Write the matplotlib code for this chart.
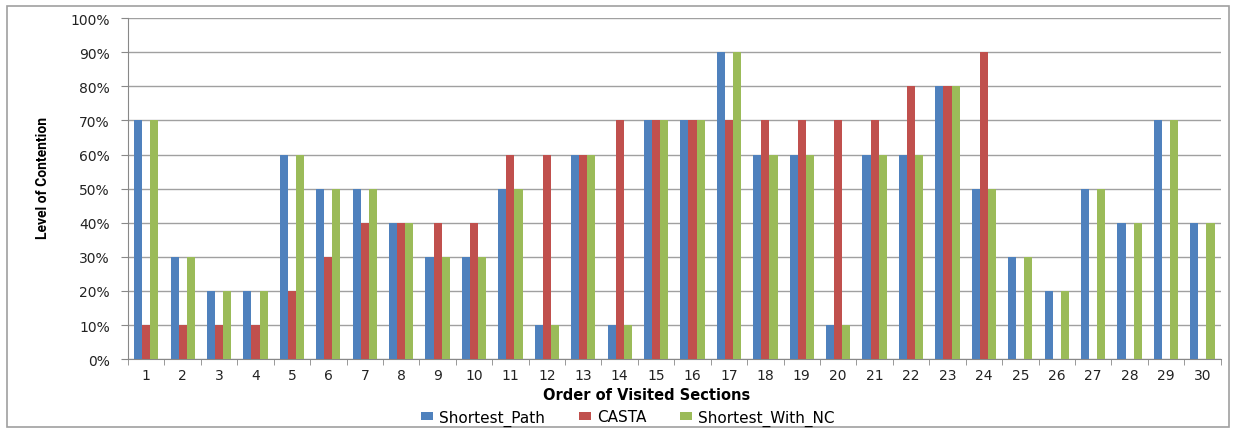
import numpy as np
import matplotlib.pyplot as plt
from matplotlib.patches import Rectangle
from matplotlib.ticker import PercentFormatter

# contention level (%) for each visited section
sections = list(range(1, 31))
shortest_path = [70, 30, 20, 20, 60, 50, 50, 40, 30, 30, 50, 10, 60, 10, 70,
                 70, 90, 60, 60, 10, 60, 60, 80, 50, 30, 20, 50, 40, 70, 40]
casta = [10, 10, 10, 10, 20, 30, 40, 40, 40, 40, 60, 60, 60, 70, 70,
         70, 70, 70, 70, 70, 70, 80, 80, 90, 0, 0, 0, 0, 0, 0]
shortest_nc = [70, 30, 20, 20, 60, 50, 50, 40, 30, 30, 50, 10, 60, 10, 70,
               70, 90, 60, 60, 10, 60, 60, 80, 50, 30, 20, 50, 40, 70, 40]

fig = plt.figure(figsize=(12.43, 4.35), dpi=100)
ax = fig.add_axes([0.103, 0.172, 0.879, 0.784])

x = np.arange(len(sections))
w = 1 / 4.5
ax.bar(x - w, shortest_path, w, color="#4F81BD", label="Shortest_Path", zorder=3)
ax.bar(x, casta, w, color="#C0504D", label="CASTA", zorder=3)
ax.bar(x + w, shortest_nc, w, color="#9BBB59", label="Shortest_With_NC", zorder=3)

ax.set_xlim(-0.5, len(sections) - 0.5)
ax.set_ylim(0, 100)
ax.set_yticks(range(0, 101, 10))
ax.yaxis.set_major_formatter(PercentFormatter(decimals=0))
ax.yaxis.grid(True, color="#a0a0a0", linewidth=1, zorder=0)

ax.set_xticks(x)
ax.set_xticklabels(sections)
ax.set_xticks(np.arange(-0.5, len(sections), 1), minor=True)
ax.tick_params(axis="x", which="major", length=0, pad=6, labelsize=10, colors="#222222")
ax.tick_params(axis="x", which="minor", length=4, color="#888888")
ax.tick_params(axis="y", length=5, pad=8, color="#888888", labelsize=10, labelcolor="#222222")

for side in ["top", "right"]:
    ax.spines[side].set_visible(False)
ax.spines["left"].set_color("#888888")
ax.spines["bottom"].set_color("#888888")

ax.set_xlabel("Order of Visited Sections", fontsize=10.5, fontweight="bold")
ax.xaxis.set_label_coords(0.475, -0.082)
ax.set_ylabel("Level of Contention", fontsize=10, fontweight="bold", family="Roboto")
ax.yaxis.set_label_coords(-0.071, 0.534)

fig.legend(loc="center", bbox_to_anchor=(0.505, 0.038), ncol=3, frameon=False,
           fontsize=11, handlelength=0.8, handleheight=0.45, columnspacing=2.2,
           handletextpad=0.4)

fig.patches.append(Rectangle((0.006, 0.015), 0.983, 0.97, transform=fig.transFigure,
                             fill=False, edgecolor="#a0a0a0", linewidth=1.2))

fig.savefig("out.png", dpi=100)
